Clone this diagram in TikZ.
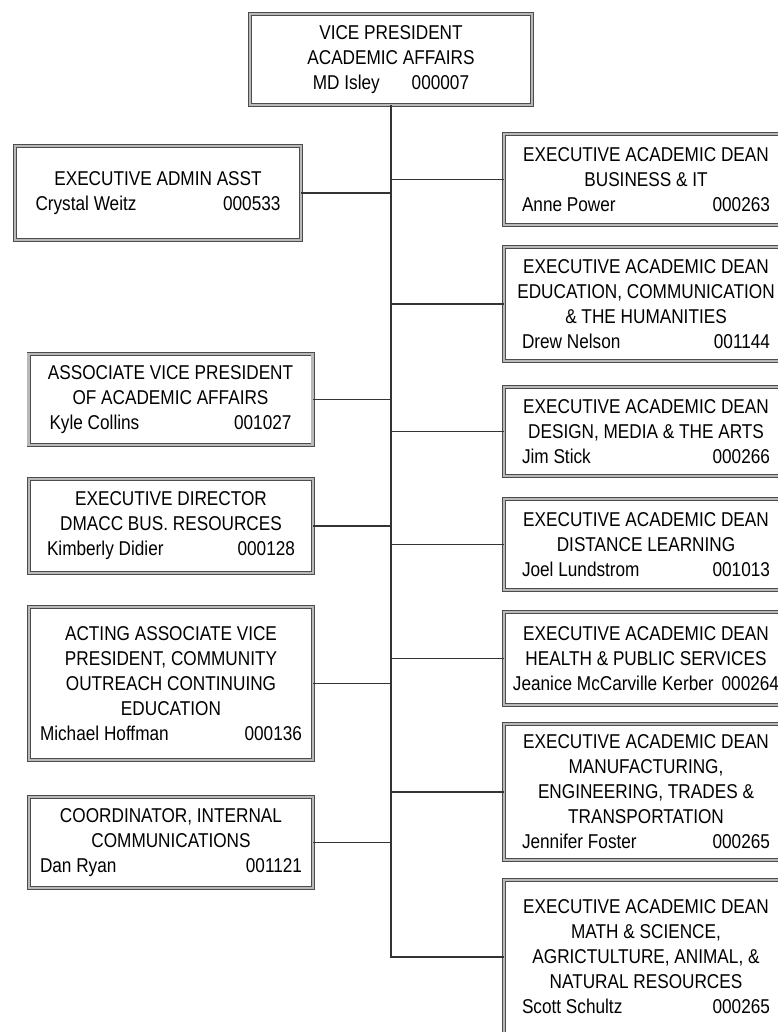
\documentclass[tikz,border=0pt]{standalone}
\usepackage{fontspec}
\setmainfont{Liberation Sans}[FakeStretch=0.86]
\usetikzlibrary{calc}
\newcommand\unitfont{\fontsize{20}{25}\selectfont}
\newcommand\namerow[3][248pt]{\hbox to#1{#2\hfill#3}}
\tikzset{
  unit/.style={draw=black!70,double=gray!55,double distance=2.4pt,line width=0.8pt,
    fill=white,align=center,inner xsep=4pt,inner ysep=0pt,font=\unitfont},
  leftunit/.style={unit,minimum width=284pt},
  rightunit/.style={unit,minimum width=284pt},
  link/.style={line width=1.1pt,draw=black!80}
}

\begin{document}
\begin{tikzpicture}[x=1pt,y=-1pt]
  \useasboundingbox[fill=white] (0,0) rectangle (777,1032);
  % head of the chart
  \node[unit,minimum width=282pt,minimum height=91pt] (vp) at (391,59.5)
    {VICE PRESIDENT\\ ACADEMIC AFFAIRS\\ MD Isley\hspace{32pt}000007};
  % left column
  \node[leftunit,minimum width=286pt,minimum height=94pt] (admin) at (158,193)
    {EXECUTIVE ADMIN ASST\\ \namerow[245pt]{Crystal Weitz}{000533}};
  \node[leftunit,minimum height=91pt] (assocvp) at (170.5,399.5)
    {ASSOCIATE VICE PRESIDENT\\ OF ACADEMIC AFFAIRS\\ \namerow[242pt]{Kyle Collins}{001027}};
  \node[leftunit,minimum height=94pt] (busres) at (171,526)
    {EXECUTIVE DIRECTOR\\ DMACC BUS. RESOURCES\\ \namerow{Kimberly Didier}{000128}};
  \node[leftunit,minimum height=153pt] (outreach) at (171,683.5)
    {ACTING ASSOCIATE VICE\\ PRESIDENT, COMMUNITY\\ OUTREACH CONTINUING\\ EDUCATION\\
     \namerow[262pt]{Michael Hoffman}{000136}};
  \node[leftunit,minimum height=91pt] (comms) at (171,842.5)
    {COORDINATOR, INTERNAL\\ COMMUNICATIONS\\ \namerow[262pt]{Dan Ryan}{001121}};
  % right column
  \node[rightunit,minimum height=91pt] (busit) at (646,179.5)
    {EXECUTIVE ACADEMIC DEAN\\ BUSINESS \& IT\\ \namerow{Anne Power}{000263}};
  \node[rightunit,minimum height=114pt] (educ) at (646,304)
    {EXECUTIVE ACADEMIC DEAN\\ EDUCATION, COMMUNICATION\\ \& THE HUMANITIES\\
     \namerow{Drew Nelson}{001144}};
  \node[rightunit,minimum height=89pt] (design) at (646,431.5)
    {EXECUTIVE ACADEMIC DEAN\\ DESIGN, MEDIA \& THE ARTS\\ \namerow{Jim Stick}{000266}};
  \node[rightunit,minimum height=91pt] (distance) at (646,544.5)
    {EXECUTIVE ACADEMIC DEAN\\ DISTANCE LEARNING\\ \namerow{Joel Lundstrom}{001013}};
  \node[rightunit,minimum height=93pt] (health) at (646,658.5)
    {EXECUTIVE ACADEMIC DEAN\\ HEALTH \& PUBLIC SERVICES\\
     Jeanice McCarville Kerber\hspace{8pt}000264};
  \node[rightunit,minimum height=136pt] (mfg) at (646,792)
    {EXECUTIVE\hspace{5pt}ACADEMIC DEAN\\ MANUFACTURING,\\ ENGINEERING, TRADES \&\\
     TRANSPORTATION\\ \namerow{Jennifer Foster}{000265}};
  \node[rightunit,minimum height=154pt] (math) at (646,957)
    {EXECUTIVE ACADEMIC DEAN\\ MATH \& SCIENCE,\\ AGRICTULTURE, ANIMAL, \&\\
     NATURAL RESOURCES\\ \namerow{Scott Schultz}{000265}};
  % connectors
  \draw[link] (vp.south) |- (math.west);
  \foreach \u in {admin,assocvp,busres,outreach,comms}
    \draw[link] (\u.east) -- (\u.east -| vp.south);
  \foreach \u in {busit,educ,design,distance,health,mfg}
    \draw[link] (\u.west) -- (\u.west -| vp.south);
\end{tikzpicture}
\end{document}
